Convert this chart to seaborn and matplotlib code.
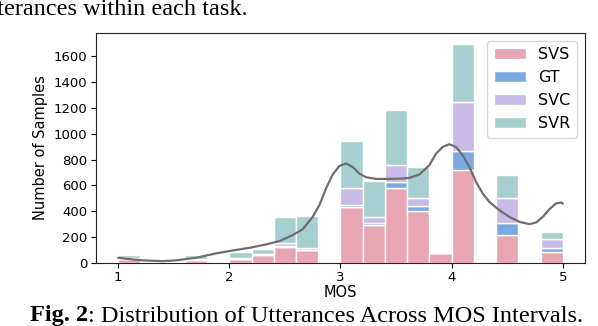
"""
Stacked MOS histogram per task with a smoothed density curve on top.

Produces:
  out.png
"""

import matplotlib
matplotlib.use("Agg")
import matplotlib.pyplot as plt
import numpy as np
import pandas as pd
import seaborn as sns

# ---------------------------------------------------------------------------
# Data (counts per 0.2-wide MOS bin)
# ---------------------------------------------------------------------------

MOS_BINS = [1.1, 1.3, 1.5, 1.7, 1.9, 2.1, 2.3, 2.5, 2.7, 2.9,
            3.1, 3.3, 3.5, 3.7, 3.9, 4.1, 4.3, 4.5, 4.7, 4.9]

TASKS = ["SVS", "GT", "SVC", "SVR"]
SVS = [33, 10, 0, 20, 0, 30, 60, 125, 100, 0, 430, 293, 584, 404, 75, 723, 12, 214, 0, 83]
GT  = [0, 0, 0, 0, 0, 0, 0, 5, 5, 0, 18, 16, 44, 36, 0, 144, 6, 97, 0, 35]
SVC = [5, 0, 0, 10, 0, 10, 10, 25, 12, 0, 136, 49, 129, 67, 0, 378, 0, 193, 0, 67]
SVR = [22, 5, 0, 30, 0, 47, 38, 198, 246, 8, 358, 275, 424, 237, 7, 451, 4, 181, 6, 52]

# density curve (scaled to counts)
KDE_X = [1.00, 1.10, 1.22, 1.40, 1.52, 1.70, 1.88, 2.00, 2.18, 2.33, 2.45, 2.57,
         2.66, 2.75, 2.81, 2.87, 2.93, 2.99, 3.05, 3.11, 3.17, 3.23, 3.32, 3.44,
         3.56, 3.62, 3.71, 3.80, 3.86, 3.92, 3.98, 4.04, 4.10, 4.16, 4.22, 4.28,
         4.34, 4.43, 4.52, 4.61, 4.70, 4.76, 4.82, 4.88, 4.94, 4.99, 5.00]
KDE_Y = [41, 31, 21, 15, 21, 41, 75, 93, 118, 144, 170, 216,
         262, 357, 448, 577, 685, 751, 770, 743, 692, 664, 651, 651,
         654, 659, 685, 757, 847, 898, 919, 898, 834, 743, 628, 538,
         473, 409, 357, 319, 301, 314, 357, 417, 461, 468, 460]

COLORS = {"SVS": "#e8a5b3", "GT": "#7baae3", "SVC": "#c9bbe8", "SVR": "#a8cfcf"}

X_TICKS = [1, 2, 3, 4, 5]
Y_TICKS = [0, 200, 400, 600, 800, 1000, 1200, 1400, 1600]

CAPTION_BOLD = "Fig. 2"
CAPTION_REST = ": Distribution of Utterances Across MOS Intervals."
TOP_TEXT = "utterances within each task."


def build_frame() -> pd.DataFrame:
    rows = []
    for task, counts in zip(TASKS, [SVS, GT, SVC, SVR]):
        for mos, n in zip(MOS_BINS, counts):
            rows.append({"MOS": mos, "count": n, "task": task})
    return pd.DataFrame(rows)


def main() -> None:
    sns.set_style("ticks")
    plt.rcParams["font.family"] = ["DejaVu Sans"]
    plt.rcParams.update({
        "text.color": "black",
        "axes.labelcolor": "black",
        "xtick.color": "black",
        "ytick.color": "black",
        "axes.edgecolor": "#222222",
    })

    df = build_frame()

    fig = plt.figure(figsize=(5.98, 3.26), dpi=100)
    ax = fig.add_axes([0.1605, 0.193, 0.8177, 0.7064])

    # seaborn puts the first hue level on top of the stack -> reverse
    stack_order = TASKS[::-1]
    sns.histplot(
        data=df, x="MOS", weights="count", hue="task",
        hue_order=stack_order, palette=COLORS,
        multiple="stack", binwidth=0.2, binrange=(1, 5),
        edgecolor="white", linewidth=1, alpha=1, ax=ax,
    )
    sns.lineplot(x=KDE_X, y=KDE_Y, color="#6e6e6e", linewidth=1.6, ax=ax, legend=False)

    ax.set_xticks(X_TICKS)
    ax.set_yticks(Y_TICKS)
    ax.tick_params(labelsize=9.5, pad=2.5)
    ax.set_xlabel("MOS", fontsize=10.5, labelpad=0.5)
    ax.set_ylabel("Number of Samples", fontsize=10.5)
    for side in ["top", "right", "left", "bottom"]:
        ax.spines[side].set_visible(True)

    # legend in SVS, GT, SVC, SVR order
    old = ax.get_legend()
    handles = list(old.legend_handles)[::-1]
    labels = [t.get_text() for t in old.get_texts()][::-1]
    old.remove()
    ax.legend(handles, labels, loc="upper right", fontsize=11.5)

    # caption + cut-off text from the page
    serif = ["Liberation Serif", "DejaVu Serif"]
    fig.text(248 / 598, 1 - 15 / 326, TOP_TEXT, ha="right", va="baseline",
             family=serif, fontsize=17.5)
    renderer = fig.canvas.get_renderer()
    t1 = fig.text(30 / 598, 1 - 321.5 / 326, CAPTION_BOLD, ha="left", va="baseline",
                  family=serif, fontsize=17.5, fontweight="bold")
    bb = t1.get_window_extent(renderer).transformed(fig.transFigure.inverted())
    fig.text(bb.x1, 1 - 321.5 / 326, CAPTION_REST, ha="left", va="baseline",
             family=serif, fontsize=17.5)

    fig.savefig("out.png", dpi=100)
    plt.close(fig)


if __name__ == "__main__":
    main()
